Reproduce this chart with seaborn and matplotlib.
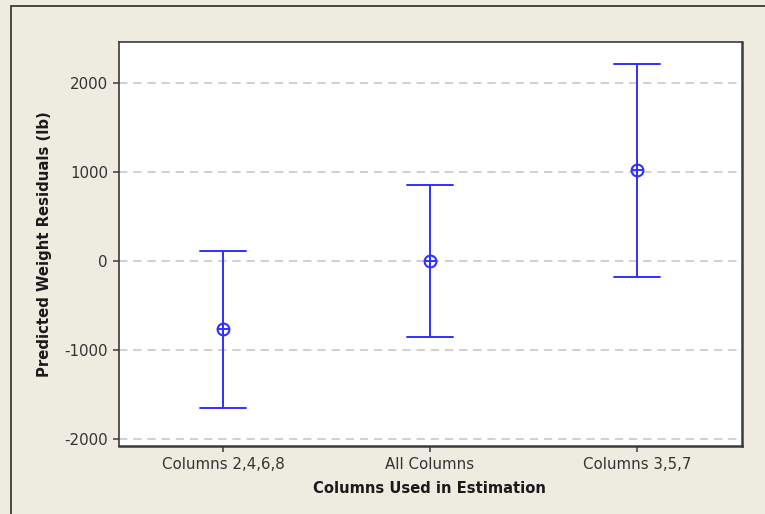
import matplotlib
matplotlib.use("Agg")
import matplotlib.pyplot as plt
from matplotlib.patches import Rectangle
import numpy as np
import pandas as pd
import seaborn as sns

# Interval estimates of the predicted-weight residuals for each column subset
categories = ["Columns 2,4,6,8", "All Columns", "Columns 3,5,7"]
lower = [-1652, -857, -183]
center = [-770, 0, 1015]
upper = [109, 854, 2213]

y_ticks = [-2000, -1000, 0, 1000, 2000]

BEIGE = "#EEEBE1"
BLUE = "#3030FF"
EDGE = "#3A3A3A"

sns.set_style("ticks")
plt.rcParams["font.family"] = ["DejaVu Sans"]

# Long-form table: each interval as (lower, center, upper); the median gives the
# center and the 100% percentile interval gives the ends.
rows = []
for cat, lo, c, hi in zip(categories, lower, center, upper):
    for v in (lo, c, hi):
        rows.append({"group": cat, "residual": v})
df = pd.DataFrame(rows)

fig = plt.figure(figsize=(7.65, 5.14), dpi=100, facecolor=BEIGE)
fig.patches.append(Rectangle((11 / 765, -0.05), 1.2, 1 - 6 / 514 + 0.05,
                             transform=fig.transFigure, facecolor=BEIGE,
                             edgecolor=EDGE, linewidth=1.3, zorder=-10))
ax = fig.add_axes([119 / 765, 1 - 446 / 514, 623 / 765, 404 / 514])
ax.set_facecolor("white")

sns.pointplot(data=df, x="group", y="residual", estimator="median",
              errorbar=("pi", 100), capsize=0.225, color=BLUE,
              linestyle="none", marker="o", markersize=8.5,
              markerfacecolor="none", markeredgewidth=1.5,
              err_kws={"linewidth": 1.4}, ax=ax, zorder=3)
sns.pointplot(data=df, x="group", y="residual", estimator="median",
              errorbar=None, color=BLUE, linestyle="none", marker="+",
              markersize=8.5, markeredgewidth=1.4, ax=ax, zorder=4)

ax.set_xlim(-0.502, 2.507)
ax.set_ylim(-2079, 2455)
ax.set_yticks(y_ticks)
ax.set_yticklabels([str(t) for t in y_ticks])

for t in y_ticks:
    ax.axhline(t, color="#C8C8C8", linewidth=1.2, linestyle=(0, (5, 3.5)),
               zorder=0)

for side in ("left", "top"):
    ax.spines[side].set_color(EDGE)
    ax.spines[side].set_linewidth(1.2)
for side in ("right", "bottom"):
    ax.spines[side].set_color(EDGE)
    ax.spines[side].set_linewidth(1.8)

ax.tick_params(axis="both", direction="out", length=4, width=1.1,
               color=EDGE, labelcolor="#333333", labelsize=10.8, pad=4)

ax.set_xlabel("Columns Used in Estimation", fontsize=10.6, fontweight="bold",
              color="#1A1A1A")
ax.set_ylabel("Predicted Weight Residuals (lb)", fontsize=10.7,
              fontweight="bold", color="#1A1A1A")
ax.xaxis.set_label_coords(0.4985, -0.0866)
ax.yaxis.set_label_coords((52 - 119) / 623, 0.5)

fig.savefig("out.png", dpi=100, facecolor=BEIGE)
